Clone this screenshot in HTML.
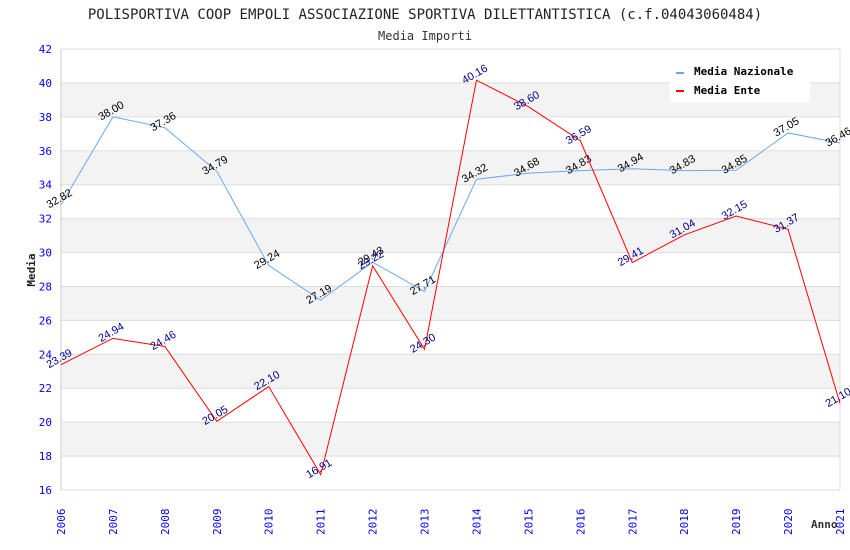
<!DOCTYPE html>
<html><head><meta charset="utf-8"><style>
body{margin:0;background:#fff;}
svg{display:block;font-family:"DejaVu Sans Mono","Liberation Mono",monospace;}
</style></head><body>
<svg id="c" width="850" height="550">
<text x="425" y="19" text-anchor="middle" font-size="14" fill="#222">POLISPORTIVA COOP EMPOLI ASSOCIAZIONE SPORTIVA DILETTANTISTICA (c.f.04043060484)</text>
<text x="425" y="40" text-anchor="middle" font-size="12" fill="#333">Media Importi</text>
<text transform="translate(35,270) rotate(-90)" text-anchor="middle" font-size="11" font-weight="bold" fill="#222">Media</text>
<text x="811" y="528" font-size="11" font-weight="bold" fill="#333">Anno</text>
<g id="bands"></g><g id="axes"></g><g id="series"></g>
<g>
<rect x="670" y="60" width="140" height="42" fill="#fff"/>
<g><rect x="676" y="72" width="8" height="2" fill="#6aa9ee"/><text x="694" y="75" font-size="11" font-weight="bold" fill="#000">Media Nazionale</text></g>
<g><rect x="676" y="90" width="8" height="2" fill="#ff0000"/><text x="694" y="94" font-size="11" font-weight="bold" fill="#000">Media Ente</text></g>
</g>
</svg>
<script>
const years=[2006,2007,2008,2009,2010,2011,2012,2013,2014,2015,2016,2017,2018,2019,2020,2021];
const nazionale=[32.82,38.00,37.36,34.79,29.24,27.19,29.43,27.71,34.32,34.68,34.83,34.94,34.83,34.85,37.05,36.46];
const ente=[23.39,24.94,24.46,20.05,22.10,16.91,29.22,24.30,40.16,38.60,36.59,29.41,31.04,32.15,31.37,21.10];
const yTicks=[16,18,20,22,24,26,28,30,32,34,36,38,40,42];
const NS='http://www.w3.org/2000/svg';
const X0=61,X1=840,Y0=490,Y1=49;
const xs=i=>X0+(X1-X0)*i/(years.length-1);
const ys=v=>Y0-(v-16)/(42-16)*(Y0-Y1);
function mk(t,a,p){const e=document.createElementNS(NS,t);for(const k in a)e.setAttribute(k,a[k]);p.appendChild(e);return e;}
const bands=document.getElementById('bands'),axes=document.getElementById('axes'),ser=document.getElementById('series');
for(let k=0;k<yTicks.length-1;k++){
  const lo=yTicks[k],hi=yTicks[k+1];
  const r=mk('rect',{x:X0,y:ys(hi),width:X1-X0,height:ys(lo)-ys(hi),fill:(lo%4===2)?'#f3f3f3':'#fff'},bands);
  
  
}
yTicks.forEach(v=>{
  const l=mk('line',{x1:X0,x2:X1,y1:ys(v),y2:ys(v),stroke:'#ddd'},axes);
  
  
  const t=mk('text',{x:X0-9,y:ys(v)+4,'text-anchor':'end','font-size':11,fill:'#00f'},axes);
  t.textContent=v;
  
  
});
mk('line',{x1:X0,x2:X0,y1:Y1,y2:Y0,stroke:'#ccc'},axes);
mk('line',{x1:X1,x2:X1,y1:Y1,y2:Y0,stroke:'#ddd'},axes);
years.forEach((y,i)=>{
  const t=mk('text',{transform:`translate(${xs(i)+4},${Y0+45}) rotate(-90)`,'font-size':11,fill:'#00f'},axes);
  t.textContent=y;
  
  
});
function series(vals,color,lblColor,name){
  const p=mk('polyline',{points:vals.map((v,i)=>xs(i)+','+ys(v)).join(' '),fill:'none',stroke:color,'stroke-width':1},ser);
  
  
  vals.forEach((v,i)=>{
    const t=mk('text',{transform:`translate(${xs(i)},${ys(v)-3}) rotate(-30)`,'text-anchor':'middle','font-family':'Liberation Sans, sans-serif','font-size':11,fill:lblColor},ser);
    t.textContent=v.toFixed(2);
    
    
  });
}
series(nazionale,'#6aa9ee','#000','nazionale');
series(ente,'#ff0000','#00008b','ente');
</script>
</body></html>
